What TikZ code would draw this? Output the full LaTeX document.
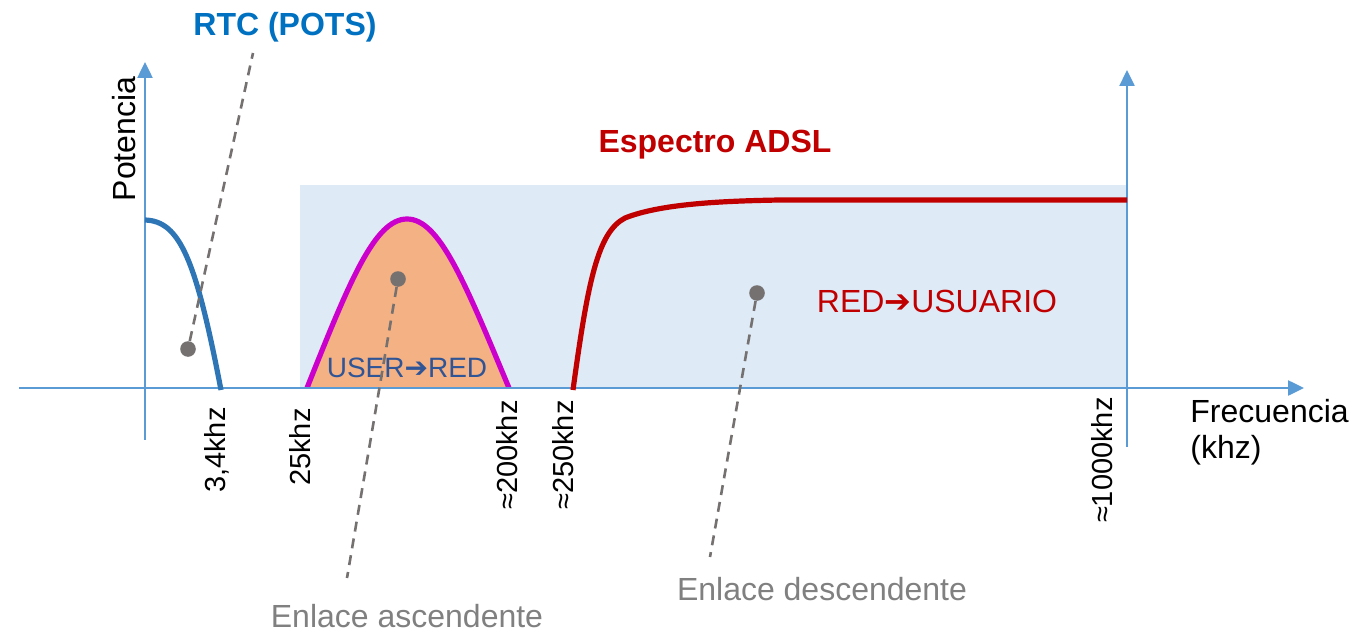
\documentclass[tikz,border=0pt]{standalone}
\usepackage{fontspec}
\setmainfont{Liberation Sans}
\newfontfamily\dingfont{DejaVu Sans}
\usetikzlibrary{arrows.meta}

\definecolor{axisblue}{HTML}{5B9BD5}
\definecolor{bandfill}{HTML}{DEEAF6}
\definecolor{potsblue}{HTML}{2E75B6}
\definecolor{titleblue}{HTML}{0070C0}
\definecolor{upfill}{HTML}{F4B183}
\definecolor{upmagenta}{HTML}{CC00CC}
\definecolor{userblue}{HTML}{2F5597}
\definecolor{adslred}{HTML}{C00000}
\definecolor{pointgray}{HTML}{767171}
\definecolor{notegray}{HTML}{808080}

\tikzset{
  axisline/.style={draw=axisblue, line width=1.25pt, -{Triangle[width=7.5pt,length=8pt]}},
  spectrum/.style={line width=2.6pt},
  pointer/.style={draw=pointgray, line width=1.3pt, dash pattern=on 5pt off 3.5pt},
  dot/.style={circle, fill=pointgray, minimum size=7.8pt},
  freqlabel/.style={rotate=90, anchor=base east, font=\fontsize{14.5}{17}\selectfont},
  biglabel/.style={anchor=base, font=\fontsize{16}{19}\selectfont},
}

\begin{document}
\begin{tikzpicture}[x=0.5pt, y=-0.5pt, every node/.style={inner sep=0pt}]
  \useasboundingbox (0,0) rectangle (1370,631);

  % ADSL band
  \fill[bandfill] (300,185) rectangle (1127,388);

  % upstream band
  \filldraw[fill=upfill, draw=upmagenta, spectrum] (307,388)
    .. controls (350,280) and (375,219) .. (407,219)
    .. controls (439,219) and (464,280) .. (509,388);

  % axes
  \coordinate (xstart) at (19,388);
  \coordinate (xend)   at (1304,388);
  \coordinate (ystart) at (145,440);
  \coordinate (yend)   at (145,62);
  \coordinate (rstart) at (1127,447);
  \coordinate (rend)   at (1127,70);
  \draw[axisline] (xstart) -- (xend);
  \draw[axisline] (ystart) -- (yend);
  \draw[axisline] (rstart) -- (rend);

  % POTS and downstream
  \draw[spectrum, potsblue] (145,220) .. controls (180,221) and (196,260) .. (221,390);
  \draw[spectrum, adslred] (573,390)
    .. controls (588,280) and (598,232) .. (625,218)
    .. controls (660,204) and (720,201) .. (780,200) -- (1127,200);

  % axis labels
  \node (potencia) at (135,139) [rotate=90, anchor=base, font=\fontsize{16}{19}\selectfont] {Potencia};
  \node (frec) at (1190,422) [anchor=base west, font=\fontsize{16}{19}\selectfont] {Frecuencia};
  \node (khz) at (1190,458) [anchor=base west, font=\fontsize{16}{19}\selectfont] {(khz)};

  % frequencies
  \node (f34)   at (225,407)  [freqlabel] {3,4khz};
  \node (f25)   at (310,408)  [freqlabel] {25khz};
  \node (f200)  at (517,400)  [freqlabel] {≈200khz};
  \node (f250)  at (573,400)  [freqlabel] {≈250khz};
  \node (f1000) at (1112,397) [freqlabel] {≈1000khz};

  % titles
  \node (pots) at (285,36) [biglabel, text=titleblue, font=\fontsize{16}{19}\selectfont\bfseries] {RTC (POTS)};
  \node (adsl) at (715,152) [biglabel, text=adslred, font=\fontsize{16}{19}\selectfont\bfseries] {Espectro ADSL};
  \node (down) at (937,312) [biglabel, text=adslred] {RED{\dingfont\bfseries ➔}USUARIO};
  \node (up)   at (407,377) [biglabel, text=userblue, font=\fontsize{14}{17}\selectfont] {USER{\dingfont\bfseries ➔}RED};
  \node (asc)  at (407,627) [biglabel, text=notegray] {Enlace ascendente};
  \node (desc) at (822,600) [biglabel, text=notegray] {Enlace descendente};

  % pointers
  \node[dot] (potsdot) at (188,349) {};
  \node[dot] (updot)   at (398,279) {};
  \node[dot] (downdot) at (757,293) {};
  \coordinate (potsend) at (253,53);
  \coordinate (upend)   at (347,578);
  \coordinate (downend) at (710,557);
  \draw[pointer] (potsdot) -- (potsend);
  \draw[pointer] (updot) -- (upend);
  \draw[pointer] (downdot) -- (downend);
\end{tikzpicture}
\end{document}
